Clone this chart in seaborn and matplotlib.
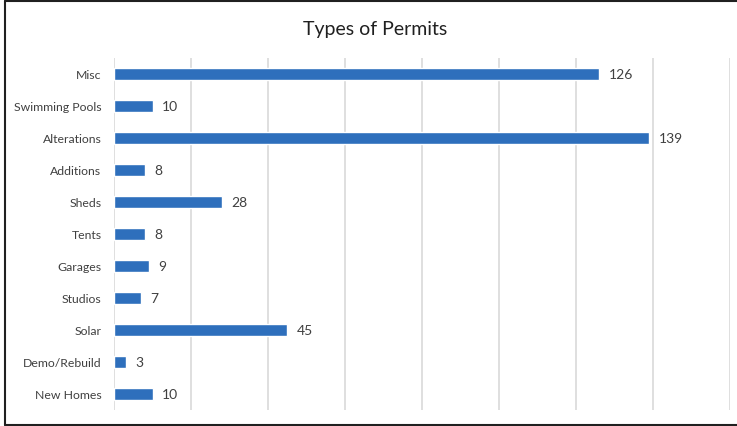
import matplotlib
matplotlib.use("Agg")
import matplotlib.pyplot as plt
import seaborn as sns
import pandas as pd
from matplotlib.lines import Line2D

categories = ["Misc", "Swimming Pools", "Alterations", "Additions", "Sheds", "Tents",
              "Garages", "Studios", "Solar", "Demo/Rebuild", "New Homes"]
values = [126, 10, 139, 8, 28, 8, 9, 7, 45, 3, 10]

df = pd.DataFrame({"cat": categories, "val": values})

sns.set_theme(style="white")
plt.rcParams["font.family"] = ["Lato", "DejaVu Sans"]

fig = plt.figure(figsize=(7.37, 4.27), dpi=100)
ax = fig.add_axes([114/737, 1-411/427, 616/737, 352/427])

sns.barplot(data=df, y="cat", x="val", orient="h", color="#2E6FBC", saturation=1,
            width=0.35, ax=ax, order=categories)

ax.set_xlim(0, 160)
ax.set_xticks(range(0, 161, 20))
ax.set_xticklabels([])
ax.tick_params(axis="x", length=0)
ax.tick_params(axis="y", length=0, pad=9, labelsize=8.8, labelcolor="#404040")
ax.grid(axis="x", color="#D9D9D9", linewidth=1.2)
ax.set_axisbelow(True)
for s in ax.spines.values():
    s.set_visible(False)
ax.set_xlabel("")
ax.set_ylabel("")

for p, v in zip(ax.patches, values):
    ax.annotate(str(v), (p.get_width(), p.get_y() + p.get_height() / 2),
                xytext=(7, 0), textcoords="offset points", va="center", ha="left",
                fontsize=10, color="#404040")

fig.text(375/737, 1-30/427, "Types of Permits", ha="center", va="center",
         fontsize=14, color="#202020")

# outer border
fig.add_artist(Line2D([5/737, 5/737], [1-2/427, 1-426/427], color="#202020", lw=1.5, transform=fig.transFigure))
fig.add_artist(Line2D([5/737, 1], [1-2/427, 1-2/427], color="#202020", lw=1.5, transform=fig.transFigure))
fig.add_artist(Line2D([5/737, 1], [1-426/427, 1-426/427], color="#202020", lw=1.5, transform=fig.transFigure))

fig.savefig("out.png", dpi=100)
